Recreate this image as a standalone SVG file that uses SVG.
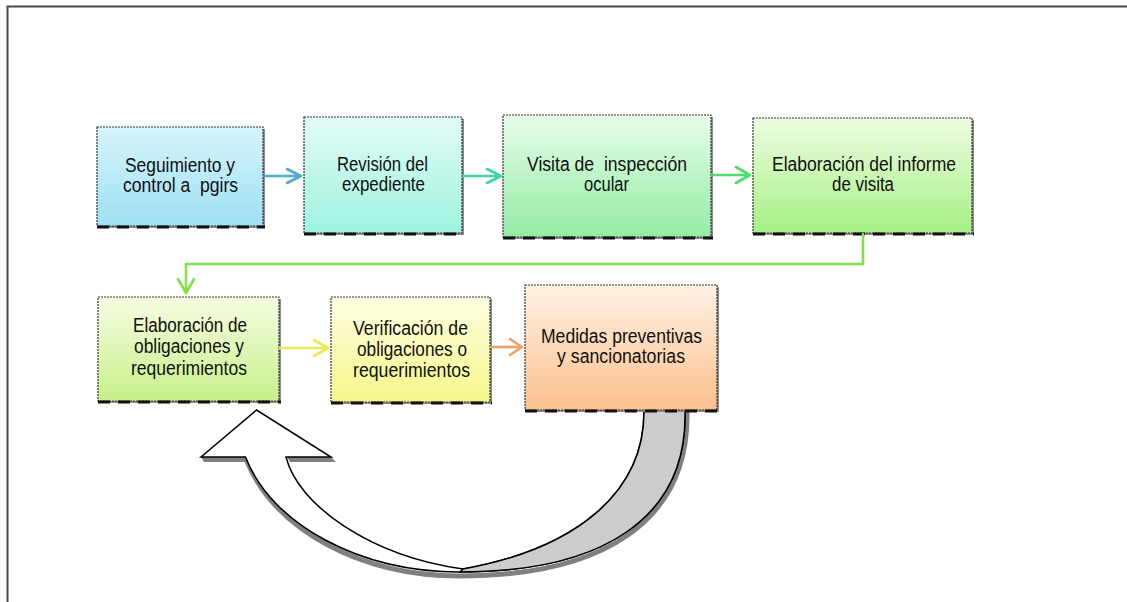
<svg xmlns="http://www.w3.org/2000/svg" width="1127" height="602" viewBox="0 0 1127 602">
<defs>
<linearGradient id="g1" x1="0" y1="0" x2="0" y2="1"><stop offset="0" stop-color="#d6f4fc"/><stop offset="1" stop-color="#9fe1f3"/></linearGradient>
<linearGradient id="g2" x1="0" y1="0" x2="0" y2="1"><stop offset="0" stop-color="#e2fcf8"/><stop offset="1" stop-color="#9ef3de"/></linearGradient>
<linearGradient id="g3" x1="0" y1="0" x2="0" y2="1"><stop offset="0" stop-color="#e6fdea"/><stop offset="1" stop-color="#94eca4"/></linearGradient>
<linearGradient id="g4" x1="0" y1="0" x2="0" y2="1"><stop offset="0" stop-color="#eefde2"/><stop offset="1" stop-color="#a6f084"/></linearGradient>
<linearGradient id="g5" x1="0" y1="0" x2="0" y2="1"><stop offset="0" stop-color="#f6fde4"/><stop offset="1" stop-color="#c8f08a"/></linearGradient>
<linearGradient id="g6" x1="0" y1="0" x2="0" y2="1"><stop offset="0" stop-color="#fffee4"/><stop offset="1" stop-color="#f4f888"/></linearGradient>
<linearGradient id="g7" x1="0" y1="0" x2="0" y2="1"><stop offset="0" stop-color="#fff2e4"/><stop offset="1" stop-color="#fcc08e"/></linearGradient>
</defs>
<style>
text{font-family:"Liberation Sans",Arial,sans-serif;font-size:20px;fill:#111;white-space:pre}
.shadow{fill:#8c8c8c}
.box{stroke:#333;stroke-width:1.2;stroke-dasharray:2 1}
.bot{stroke:#111;stroke-width:3;stroke-dasharray:12 8}
.conn{fill:none;stroke-width:2.6;stroke-linecap:round;stroke-linejoin:round}
</style>
<rect width="1127" height="602" fill="#fff"/>
<path d="M7.5,602 L7.5,6.5 L1127,6.5" fill="none" stroke="#4a4a4a" stroke-width="2"/>

<g id="curved-arrow">
<path d="M687,412 C689,522 602,576 460,576 C360,576 274,529 247,461" fill="none" stroke="#808080" stroke-width="5"/>
<path d="M201,457 L246,457 L249,462 L204,462 Z M287,457 L331,457 L336,462 L290,462 Z" fill="#808080"/>
<path d="M644,405 L685,405 L685,412 C687,520 600,572 460,572 C360,572 272,525 245.5,457 L201,457 L256.5,410 L331,457 L286,457 C298,505 370,556 463,569 C580,548 644,490 644,412 Z" fill="#fff" stroke="#000" stroke-width="1.5" stroke-linejoin="miter"/>
<path d="M644,405 L685,405 L685,412 C687,520 600,572 460,572 L463,569 C580,548 644,490 644,412 Z" fill="#cccccc" stroke="#000" stroke-width="1.5"/>
</g>

<g id="node1">
<rect class="shadow" x="99" y="129" width="166" height="99"/>
<rect class="box" x="97" y="127" width="166" height="99" fill="url(#g1)"/>
<line class="bot" x1="97" y1="227" x2="265" y2="227"/>
<text x="125" y="172" textLength="110" lengthAdjust="spacingAndGlyphs">Seguimiento y</text>
<text x="123" y="192" textLength="115" lengthAdjust="spacingAndGlyphs">control a  pgirs</text>
</g>
<g id="node2">
<rect class="shadow" x="306" y="119" width="158" height="116"/>
<rect class="box" x="304" y="117" width="158" height="116" fill="url(#g2)"/>
<line class="bot" x1="304" y1="234" x2="464" y2="234"/>
<text x="337" y="171" textLength="91" lengthAdjust="spacingAndGlyphs">Revisión del</text>
<text x="342" y="191" textLength="83" lengthAdjust="spacingAndGlyphs">expediente</text>
</g>
<g id="node3">
<rect class="shadow" x="505" y="117" width="208" height="122"/>
<rect class="box" x="503" y="115" width="208" height="122" fill="url(#g3)"/>
<line class="bot" x1="503" y1="238" x2="713" y2="238"/>
<text x="527" y="171" textLength="160" lengthAdjust="spacingAndGlyphs">Visita de  inspección</text>
<text x="584" y="191" textLength="45" lengthAdjust="spacingAndGlyphs">ocular</text>
</g>
<g id="node4">
<rect class="shadow" x="755" y="120" width="219" height="115"/>
<rect class="box" x="753" y="118" width="219" height="115" fill="url(#g4)"/>
<line class="bot" x1="753" y1="234" x2="974" y2="234"/>
<text x="772" y="171" textLength="184" lengthAdjust="spacingAndGlyphs">Elaboración del informe</text>
<text x="832" y="191" textLength="62" lengthAdjust="spacingAndGlyphs">de visita</text>
</g>
<g id="node5">
<rect class="shadow" x="100" y="299" width="181" height="104"/>
<rect class="box" x="98" y="297" width="181" height="104" fill="url(#g5)"/>
<line class="bot" x1="98" y1="402" x2="281" y2="402"/>
<text x="133" y="332" textLength="114" lengthAdjust="spacingAndGlyphs">Elaboración de</text>
<text x="134" y="353" textLength="110" lengthAdjust="spacingAndGlyphs">obligaciones y</text>
<text x="131" y="375" textLength="116" lengthAdjust="spacingAndGlyphs">requerimientos</text>
</g>
<g id="node6">
<rect class="shadow" x="333" y="299" width="159" height="105"/>
<rect class="box" x="331" y="297" width="159" height="105" fill="url(#g6)"/>
<line class="bot" x1="331" y1="403" x2="492" y2="403"/>
<text x="353" y="335" textLength="115" lengthAdjust="spacingAndGlyphs">Verificación de</text>
<text x="357" y="356" textLength="110" lengthAdjust="spacingAndGlyphs">obligaciones o</text>
<text x="353" y="377" textLength="117" lengthAdjust="spacingAndGlyphs">requerimientos</text>
</g>
<g id="node7">
<rect class="shadow" x="527" y="287" width="192" height="125"/>
<rect class="box" x="525" y="285" width="192" height="125" fill="url(#g7)"/>
<line class="bot" x1="525" y1="411" x2="719" y2="411"/>
<text x="541" y="343" textLength="161" lengthAdjust="spacingAndGlyphs">Medidas preventivas</text>
<text x="557" y="363" textLength="128" lengthAdjust="spacingAndGlyphs">y sancionatorias</text>
</g>

<g id="connectors">
<path class="conn" stroke="#4aaed0" d="M264,176 L301,176 M287,169 L301,176 L287,183"/>
<path class="conn" stroke="#3ed6aa" d="M463,176 L501,176 M487,169 L501,176 L487,183"/>
<path class="conn" stroke="#4ede6c" d="M712,175 L750,175 M736,167 L750,175 L736,183"/>
<path class="conn" stroke="#86e04c" d="M863,234 L863,264 L186,264 L186,293 M178,279 L186,293 L194,279"/>
<path class="conn" stroke="#eaea52" d="M280,348 L328,348 M314,340 L328,348 L314,356"/>
<path class="conn" stroke="#f0a062" d="M491,347 L522,347 M510,339 L522,347 L510,355"/>
</g>
</svg>
